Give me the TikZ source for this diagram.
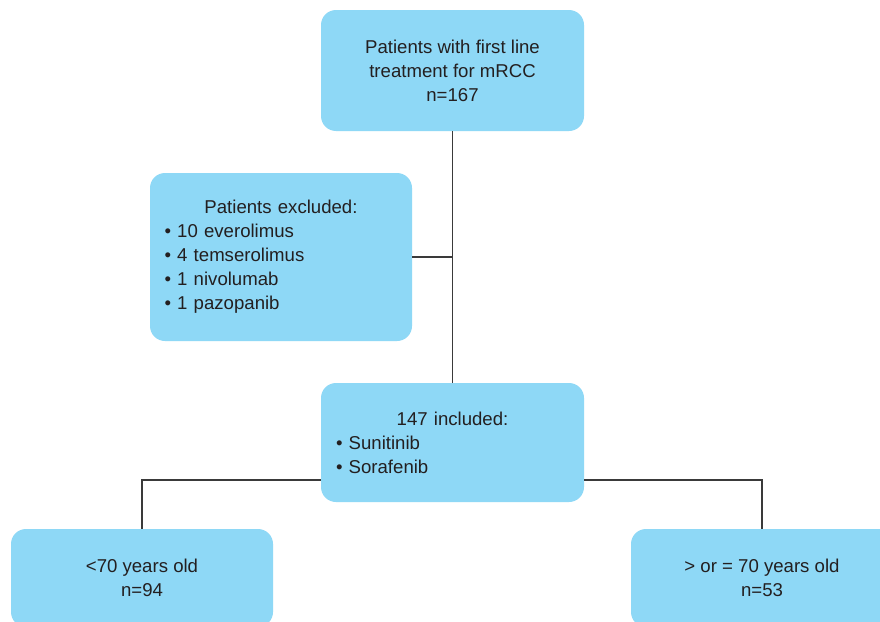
\documentclass[tikz,border=0pt]{standalone}
\usepackage{fontspec}
\setmainfont{Liberation Sans}
\usetikzlibrary{positioning}
\definecolor{boxblue}{HTML}{8ED8F6}
\definecolor{textgray}{HTML}{231F20}
\definecolor{linegray}{HTML}{3A3A3A}
\tikzset{flowbox/.style={fill=boxblue,rounded corners=15pt,minimum width=263pt,
    text=textgray,align=center,inner sep=0},
    listbox/.style={flowbox,text width=233pt,align=left},
    link/.style={draw=linegray,line width=1.1pt}}
\newcommand{\boxhead}[1]{\makebox[233pt]{#1}}
\newcommand{\dotitem}{\textbullet\ }

\begin{document}
\begin{tikzpicture}[x=1pt,y=-1pt,font=\fontsize{18.6}{24}\selectfont]

\clip (0,0) rectangle (880,621);
\fill[white] (0,0) rectangle (880,621);

% cohort and exclusions

\node (start) at (452.5,70.5) [flowbox,minimum height=121pt] {Patients with first line\\treatment for mRCC\\n=167};
\node (excl) at (281,257) [listbox,minimum width=262pt,minimum height=168pt] {\boxhead{Patients excluded:}\\
  \dotitem 10 everolimus\\
  \dotitem 4 temserolimus\\
  \dotitem 1 nivolumab\\
  \dotitem 1 pazopanib};
\node (incl) at (452.5,442.5) [listbox,minimum height=119pt] {\boxhead{147 included:}\\
  \dotitem Sunitinib\\
  \dotitem Sorafenib};

% age groups

\node (young) at (142,578) [flowbox,minimum width=262pt,minimum height=98pt] {<70 years old\\n=94};
\node (old) at (762,578) [flowbox,minimum width=262pt,minimum height=98pt] {> or = 70 years old\\n=53};

\draw [link] (start) -- (incl);
\draw [link] (excl.east) -- (excl.east -| start.south);
\draw [link] ([yshift=-37.5pt]incl.west) -| (young.north);
\draw [link] ([yshift=-37.5pt]incl.east) -| (old.north);

\end{tikzpicture}
\end{document}
